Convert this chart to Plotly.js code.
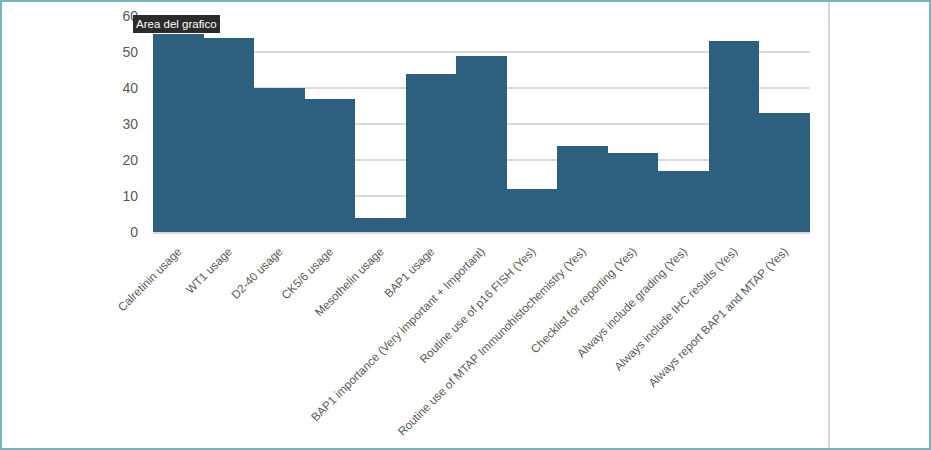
<!DOCTYPE html>
<html>
<head>
<meta charset="utf-8">
<script src="https://cdn.plot.ly/plotly-3.0.1.min.js"></script>
<style>
html,body{margin:0;padding:0;background:#fff;}
#wrap{position:relative;width:931px;height:450px;overflow:hidden;}
#chart{position:absolute;left:0;top:0;width:931px;height:450px;}
#frame{position:absolute;left:0;top:0;width:927px;height:446px;border:2px solid #79b2bf;pointer-events:none;}
#vline{position:absolute;left:828px;top:0;width:2px;height:450px;background:#d6d6d6;pointer-events:none;}
</style>
</head>
<body>
<div id="wrap">
<div id="chart"></div>
<div id="vline"></div>
<div id="frame"></div>
</div>
<script>
const categories = [
  "Calretinin usage",
  "WT1 usage",
  "D2-40 usage",
  "CK5/6 usage",
  "Mesothelin usage",
  "BAP1 usage",
  "BAP1 importance (Very important + Important)",
  "Routine use of p16 FISH (Yes)",
  "Routine use of MTAP Immunohistochemistry (Yes)",
  "Checklist for reporting (Yes)",
  "Always include grading (Yes)",
  "Always include IHC results (Yes)",
  "Always report BAP1 and MTAP (Yes)"
];
const values = [55, 54, 40, 37, 4, 44, 49, 12, 24, 22, 17, 53, 33];
const yTicks = [0, 10, 20, 30, 40, 50, 60];
const tooltipText = "Area del grafico";

const trace = {
  type: "bar",
  x: categories,
  y: values,
  marker: {color: "#2d5f7e", line: {width: 0}},
  hoverinfo: "none"
};

const layout = {
  width: 931,
  height: 450,
  margin: {l: 153, r: 121, t: 16, b: 218, pad: 0},
  paper_bgcolor: "#ffffff",
  plot_bgcolor: "#ffffff",
  bargap: 0,
  showlegend: false,
  font: {family: "Liberation Sans, Arial, sans-serif", color: "#595959"},
  xaxis: {
    type: "category",
    tickangle: -45,
    tickfont: {size: 11.7, color: "#5a5a5a", family: "Liberation Sans, Arial, sans-serif"},
    showgrid: false,
    showline: true,
    linecolor: "#d9d9d9",
    linewidth: 2,
    ticks: "",
    ticklabelstandoff: 6,
    fixedrange: true
  },
  yaxis: {
    range: [0, 60],
    tickvals: yTicks,
    ticktext: yTicks.map(String),
    tickfont: {size: 14, color: "#595959", family: "Liberation Sans, Arial, sans-serif"},
    showgrid: true,
    gridcolor: "#d9d9d9",
    gridwidth: 2,
    zeroline: false,
    showline: false,
    ticks: "",
    ticklabelstandoff: 14,
    fixedrange: true
  },
  annotations: [{
    text: tooltipText,
    xref: "paper", yref: "paper",
    x: -0.03, y: 1.003,
    xanchor: "left", yanchor: "top",
    showarrow: false,
    bgcolor: "#2b2b2b",
    bordercolor: "#2b2b2b",
    borderpad: 2,
    font: {size: 11.5, color: "#ffffff", family: "Liberation Sans, Arial, sans-serif"}
  }]
};

Plotly.newPlot("chart", [trace], layout, {displayModeBar: false, staticPlot: true});
</script>
</body>
</html>
